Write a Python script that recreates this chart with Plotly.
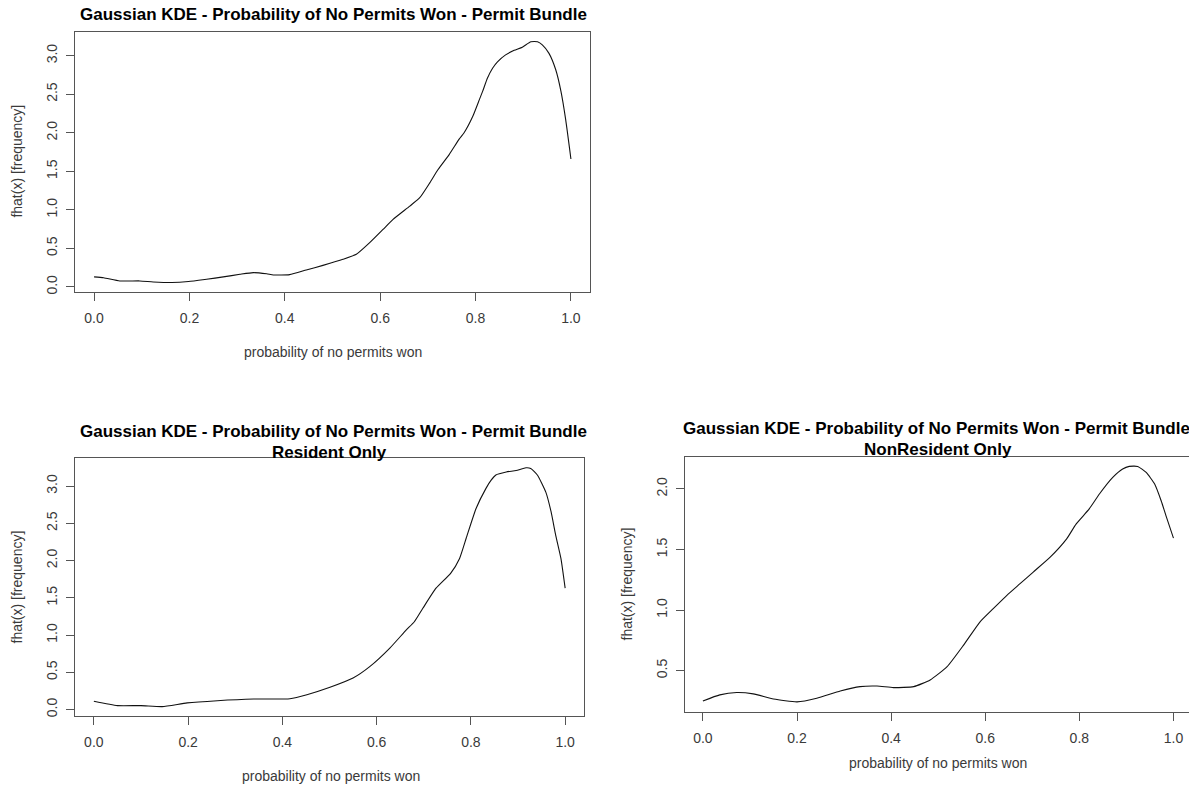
import plotly.graph_objects as go

# ---- data ----
x_all = [0.0, 0.02, 0.054, 0.096, 0.124, 0.163, 0.198, 0.236, 0.271, 0.306, 0.334, 0.362, 0.376, 0.41,
         0.445, 0.48, 0.522, 0.55, 0.578, 0.606, 0.627, 0.662, 0.683, 0.704, 0.721, 0.745, 0.766, 0.776,
         0.794, 0.808, 0.815, 0.825, 0.836, 0.846, 0.863, 0.881, 0.898, 0.916, 0.930, 0.940, 0.954,
         0.968, 0.979, 0.989, 1.0]
y_all = [0.13, 0.12, 0.078, 0.078, 0.065, 0.057, 0.07, 0.10, 0.13, 0.164, 0.186, 0.17, 0.155, 0.16,
         0.22, 0.28, 0.358, 0.423, 0.574, 0.746, 0.876, 1.048, 1.157, 1.35, 1.52, 1.72, 1.92, 2.00,
         2.21, 2.43, 2.54, 2.71, 2.84, 2.92, 3.01, 3.07, 3.11, 3.18, 3.18, 3.14, 3.03,
         2.82, 2.54, 2.17, 1.66]

x_res = [0.0, 0.05, 0.1, 0.145, 0.198, 0.262, 0.339, 0.416, 0.452, 0.501, 0.55, 0.586, 0.628, 0.663,
         0.68, 0.698, 0.726, 0.757, 0.776, 0.790, 0.811, 0.832, 0.843, 0.853, 0.875, 0.896, 0.917,
         0.927, 0.941, 0.959, 0.970, 0.980, 0.991, 1.0]
y_res = [0.112, 0.054, 0.054, 0.04, 0.09, 0.12, 0.143, 0.147, 0.20, 0.30, 0.424, 0.58, 0.826, 1.07,
         1.18, 1.36, 1.63, 1.83, 2.03, 2.30, 2.70, 2.97, 3.08, 3.15, 3.19, 3.21, 3.246,
         3.237, 3.15, 2.92, 2.66, 2.34, 2.03, 1.63]

x_non = [0.0, 0.036, 0.072, 0.107, 0.15, 0.2, 0.242, 0.292, 0.334, 0.37, 0.405, 0.448, 0.483, 0.519,
         0.554, 0.589, 0.617, 0.646, 0.674, 0.702, 0.738, 0.773, 0.793, 0.821, 0.843, 0.871, 0.892,
         0.906, 0.924, 0.942, 0.96, 0.974, 0.984, 1.0]
y_non = [0.25, 0.30, 0.319, 0.308, 0.266, 0.242, 0.272, 0.332, 0.368, 0.373, 0.36, 0.368, 0.423, 0.533,
         0.711, 0.903, 1.012, 1.122, 1.218, 1.314, 1.437, 1.588, 1.71, 1.835, 1.96, 2.095, 2.164,
         2.186, 2.186, 2.136, 2.04, 1.90, 1.78, 1.594]

x_ticks = [0.0, 0.2, 0.4, 0.6, 0.8, 1.0]
y_ticks_a = [0.0, 0.5, 1.0, 1.5, 2.0, 2.5, 3.0]
y_ticks_b = [0.5, 1.0, 1.5, 2.0]

main_title = "Gaussian KDE - Probability of No Permits Won - Permit Bundle"
sub_res = "Resident Only"
sub_non = "NonResident Only"
x_label = "probability of no permits won"
y_label = "fhat(x) [frequency]"

# ---- layout helpers ----
W, H = 1189, 789
FONT = "Liberation Sans, Arial, sans-serif"
TICK_COLOR = "#3a3a3a"
LINE_COLOR = "#555555"


def px(x):
    return x / W


def py(y):
    return 1 - y / H


fig = go.Figure()
series = [(x_all, y_all, "x", "y"), (x_res, y_res, "x2", "y2"), (x_non, y_non, "x3", "y3")]
for xs, ys, xa, ya in series:
    fig.add_trace(go.Scatter(x=xs, y=ys, mode="lines", xaxis=xa, yaxis=ya,
                             line=dict(color="#111111", width=1.1, shape="spline", smoothing=0.5),
                             showlegend=False, hoverinfo="skip"))


def xaxis(domain, rng, anchor):
    return dict(domain=domain, range=rng, anchor=anchor, tickvals=x_ticks, tickformat=".1f",
                ticks="outside", ticklen=8, tickcolor=LINE_COLOR, showline=True, mirror=True,
                linecolor=LINE_COLOR, linewidth=1, showgrid=False, zeroline=False,
                tickfont=dict(family=FONT, size=14, color=TICK_COLOR), ticklabelstandoff=5)


def yaxis(domain, rng, anchor, vals, mirror=True):
    return dict(domain=domain, range=rng, anchor=anchor, tickvals=vals, tickformat=".1f",
                ticks="outside", ticklen=8, tickcolor=LINE_COLOR, showline=True, mirror=mirror,
                linecolor=LINE_COLOR, linewidth=1, showgrid=False, zeroline=False, tickangle=-90,
                tickfont=dict(family=FONT, size=14, color=TICK_COLOR), ticklabelstandoff=3)


fig.update_layout(
    width=W, height=H, margin=dict(l=0, r=0, t=0, b=0),
    paper_bgcolor="white", plot_bgcolor="white",
    xaxis=xaxis([px(75), px(590)], [-0.04, 1.04], "y"),
    yaxis=yaxis([py(293), py(32)], [-0.069, 3.308], "x", y_ticks_a),
    xaxis2=xaxis([px(75), px(584)], [-0.04, 1.04], "y2"),
    yaxis2=yaxis([py(718), py(459)], [-0.088, 3.38], "x2", y_ticks_a),
    xaxis3=xaxis([px(685), 1.0], [-0.038, 1.033], "y3"),
    yaxis3=yaxis([py(714), py(458)], [0.157, 2.265], "x3", y_ticks_b, mirror=False),
)

ann = []


def text(t, x, y, size, color, bold=False, angle=0):
    ann.append(dict(text=f"<b>{t}</b>" if bold else t, x=px(x), y=py(y), xref="paper", yref="paper",
                    xanchor="center", yanchor="middle", showarrow=False, textangle=angle,
                    font=dict(family=FONT, size=size, color=color)))


# titles
text(main_title, 333, 15, 17, "#000000", bold=True)
text(main_title, 333, 433, 17, "#000000", bold=True)
text(sub_res, 329, 454, 17, "#000000", bold=True)
text(main_title, 936, 430, 17, "#000000", bold=True)
text(sub_non, 938, 451, 17, "#000000", bold=True)
# axis titles
text(x_label, 333, 353, 14, TICK_COLOR)
text(x_label, 331, 778, 14, TICK_COLOR)
text(x_label, 938, 765, 14, TICK_COLOR)
text(y_label, 17, 162, 14, TICK_COLOR, angle=-90)
text(y_label, 17, 589, 14, TICK_COLOR, angle=-90)
text(y_label, 627, 586, 14, TICK_COLOR, angle=-90)

fig.update_layout(annotations=ann)
fig.write_html("out.html")
